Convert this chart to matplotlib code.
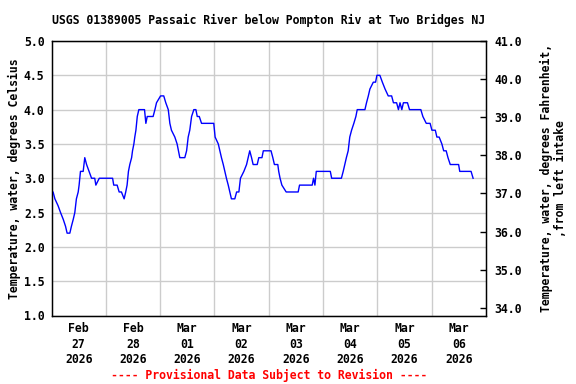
import matplotlib
matplotlib.use("Agg")
import matplotlib.pyplot as plt
import matplotlib.dates as mdates
import numpy as np
from datetime import datetime, timedelta

# Hours since 2026-02-27 00:00 and water temperature (deg C)
hours = [0.0, 0.7, 1.5, 2.9, 4.0, 5.2, 6.2, 6.9, 8.1, 8.8, 9.6, 10.3, 11.0, 11.8,
         12.2, 12.5, 12.8, 14.0, 14.7, 15.5, 16.6, 17.7, 19.1, 19.6, 21.1, 27.0,
         27.5, 29.0, 29.9, 30.9, 32.1, 32.8, 33.4, 34.0, 34.6, 35.4, 35.8, 36.4,
         36.8, 37.3, 37.6, 37.9, 38.6, 41.1, 41.7, 42.3, 44.9, 45.7, 46.4, 48.2,
         49.6, 50.5, 51.6, 52.3, 53.0, 54.5, 55.5, 56.7, 58.9, 59.7, 60.4, 61.1,
         61.9, 62.9, 63.8, 64.4, 65.3, 66.3, 71.7, 72.3, 73.7, 75.1, 75.9, 76.6,
         77.3, 78.1, 78.8, 79.5, 81.0, 81.8, 82.8, 83.5, 85.0, 86.2, 86.9, 87.6,
         88.4, 89.1, 90.9, 91.6, 93.0, 93.6, 97.0, 97.8, 98.5, 100.0, 100.4,
         101.0, 101.8, 103.7, 109.0, 109.6, 115.2, 115.8, 116.4, 117.0, 117.8,
         123.2, 123.8, 128.1, 128.9, 129.6, 130.3, 131.1, 131.8, 132.6, 133.6,
         134.5, 135.1, 138.5, 139.2, 140.0, 140.7, 142.2, 143.2, 143.8, 145.1,
         146.2, 147.4, 148.8, 150.3, 151.1, 152.5, 153.3, 154.0, 154.8, 155.5,
         157.3, 158.2, 163.2, 164.1, 165.6, 167.3, 168.1, 169.6, 170.3, 171.3,
         172.5, 173.3, 174.4, 175.2, 176.2, 179.9, 180.4, 185.4, 186.3]
temp_c = [2.8, 2.8, 2.7, 2.6, 2.5, 2.4, 2.3, 2.2, 2.2, 2.3, 2.4, 2.5, 2.7, 2.8,
          2.9, 3.0, 3.1, 3.1, 3.3, 3.2, 3.1, 3.0, 3.0, 2.9, 3.0, 3.0,
          2.9, 2.9, 2.8, 2.8, 2.7, 2.8, 2.9, 3.1, 3.2, 3.3, 3.4, 3.5,
          3.6, 3.7, 3.8, 3.9, 4.0, 4.0, 3.8, 3.9, 3.9, 4.0, 4.1, 4.2,
          4.2, 4.1, 4.0, 3.8, 3.7, 3.6, 3.5, 3.3, 3.3, 3.4, 3.6, 3.7,
          3.9, 4.0, 4.0, 3.9, 3.9, 3.8, 3.8, 3.6, 3.5, 3.3, 3.2, 3.1,
          3.0, 2.9, 2.8, 2.7, 2.7, 2.8, 2.8, 3.0, 3.1, 3.2, 3.3, 3.4,
          3.3, 3.2, 3.2, 3.3, 3.3, 3.4, 3.4, 3.3, 3.2, 3.2, 3.1,
          3.0, 2.9, 2.8, 2.8, 2.9, 2.9, 3.0, 2.9, 3.1, 3.1,
          3.1, 3.0, 3.0, 3.1, 3.2, 3.3, 3.4, 3.6, 3.7, 3.8,
          3.9, 4.0, 4.0, 4.1, 4.2, 4.3, 4.4, 4.4, 4.5, 4.5,
          4.4, 4.3, 4.2, 4.2, 4.1, 4.1, 4.0, 4.1, 4.0, 4.1,
          4.1, 4.0, 4.0, 3.9, 3.8, 3.8, 3.7, 3.7, 3.6, 3.6,
          3.5, 3.4, 3.4, 3.3, 3.2, 3.2, 3.1, 3.1, 3.0]

tick_labels = ["Feb\n27\n2026", "Feb\n28\n2026", "Mar\n01\n2026", "Mar\n02\n2026",
               "Mar\n03\n2026", "Mar\n04\n2026", "Mar\n05\n2026", "Mar\n06\n2026"]
left_ticks = [1.0, 1.5, 2.0, 2.5, 3.0, 3.5, 4.0, 4.5, 5.0]
right_ticks = [34.0, 35.0, 36.0, 37.0, 38.0, 39.0, 40.0, 41.0]

title = "USGS 01389005 Passaic River below Pompton Riv at Two Bridges NJ"
footer = "---- Provisional Data Subject to Revision ----"

FONT = "DejaVu Sans Mono"
FS = 8.3

start = datetime(2026, 2, 27)
times = [start + timedelta(hours=h) for h in hours]

fig = plt.figure(figsize=(5.76, 3.84), dpi=100)
ax = fig.add_axes([51.5 / 576, 1 - 315.5 / 384, (486 - 51.5) / 576, (315.5 - 41) / 384])

ax.plot(times, temp_c, color="#0000ff", linewidth=1.0, zorder=3)

ax.set_xlim(start, start + timedelta(days=8))
ax.set_ylim(1.0, 5.0)

# x: labels at noon, grid at midnight
noon = [start + timedelta(days=i, hours=12) for i in range(len(tick_labels))]
midn = [start + timedelta(days=i) for i in range(1, 8)]
ax.set_xticks(noon)
ax.set_xticklabels(tick_labels, fontfamily=FONT, fontweight="bold", fontsize=FS,
                   linespacing=1.25)
ax.set_xticks(midn, minor=True)
ax.tick_params(axis="x", which="both", length=0, pad=5)
ax.grid(True, axis="x", which="minor", color="#cccccc", linewidth=1.0)

ax.set_yticks(left_ticks)
ax.set_yticklabels([f"{v:.1f}" for v in left_ticks], fontfamily=FONT,
                   fontweight="bold", fontsize=FS)
ax.tick_params(axis="y", length=0, pad=5)
ax.grid(True, axis="y", which="major", color="#cccccc", linewidth=1.0)

for s in ax.spines.values():
    s.set_color("black")
    s.set_linewidth(1.0)

ax.set_ylabel("Temperature, water, degrees Celsius", fontfamily=FONT,
              fontweight="bold", fontsize=FS, labelpad=2)

ax2 = ax.twinx()
ax2.set_ylim(1.0 * 1.8 + 32, 5.0 * 1.8 + 32)
ax2.set_yticks(right_ticks)
ax2.set_yticklabels([f"{v:.1f}" for v in right_ticks], fontfamily=FONT,
                    fontweight="bold", fontsize=FS)
ax2.tick_params(axis="y", direction="in", length=4, width=1, pad=6)
ax2.set_ylabel("Temperature, water, degrees Fahrenheit,\n,from left intake",
               fontfamily=FONT, fontweight="bold", fontsize=FS, labelpad=13,
               linespacing=1.1)

cx = (51.5 + 486) / 2 / 576
fig.text(cx, 1 - 20 / 384, title, ha="center", va="center", fontfamily=FONT,
         fontweight="bold", fontsize=FS)
fig.text(cx, 1 - 375 / 384, footer, ha="center", va="center", fontfamily=FONT,
         fontweight="bold", fontsize=FS, color="red")

fig.savefig("out.png", dpi=100)
